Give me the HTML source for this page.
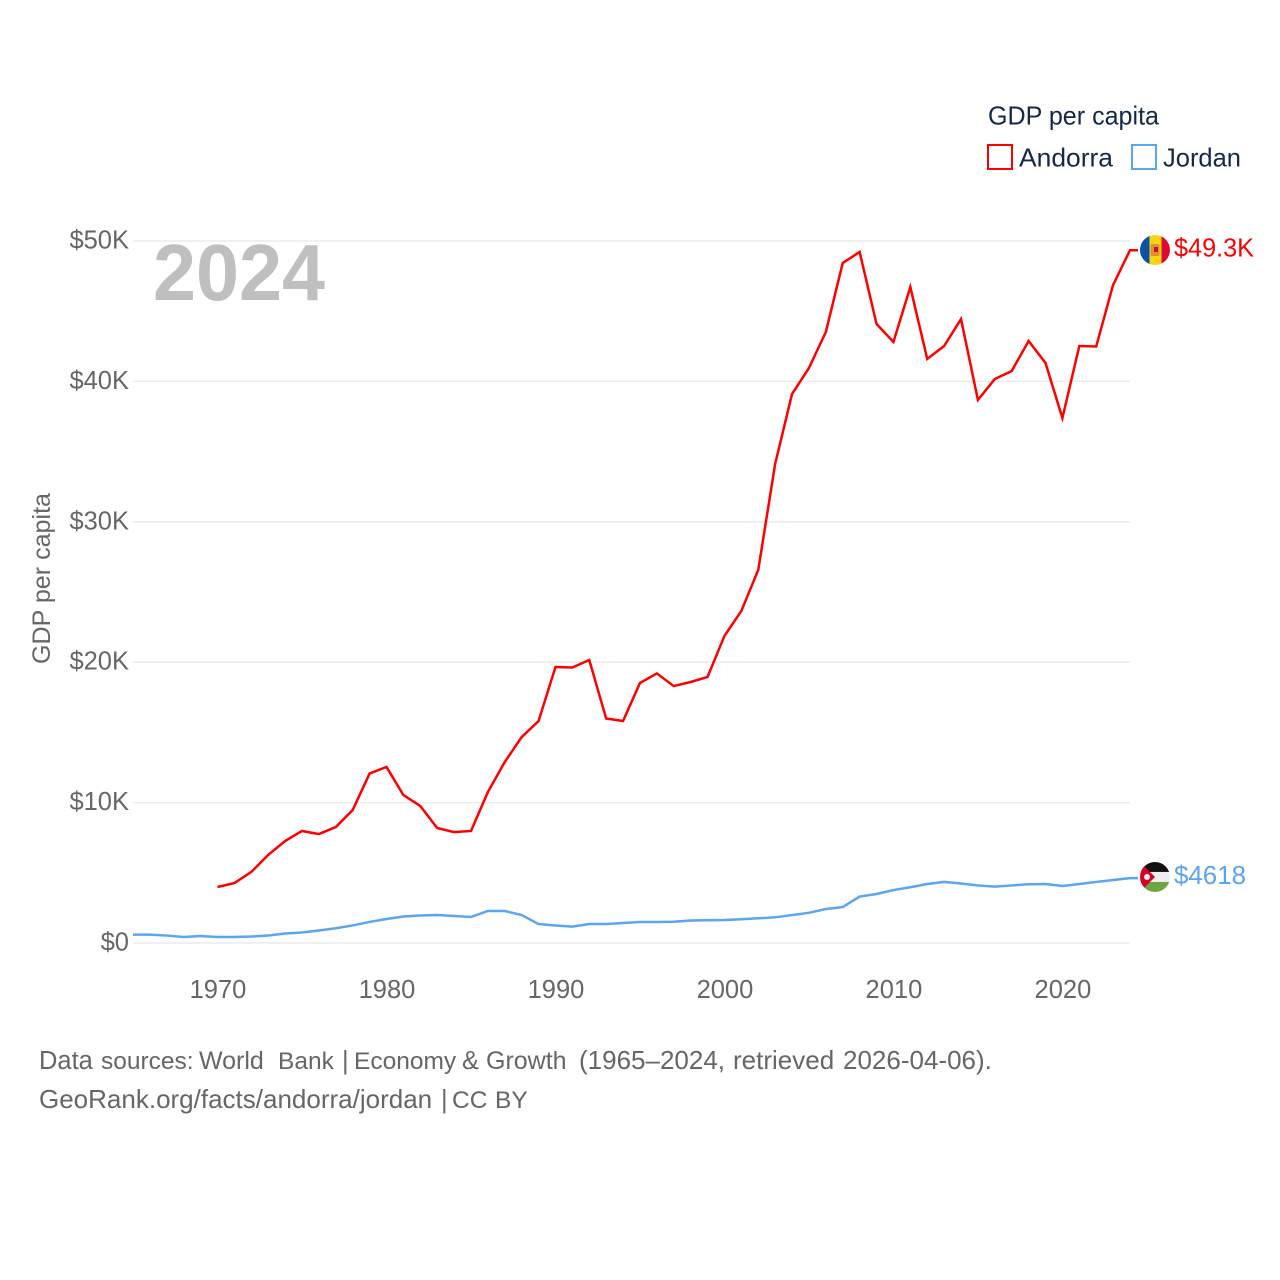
<!DOCTYPE html>
<html lang="en">
<head>
<meta charset="utf-8">
<title>GDP per capita: Andorra and Jordan</title>
<style>
html,body{margin:0;padding:0;background:#fff}
svg{display:block}
text{font-family:"Liberation Sans",sans-serif}
</style>
</head>
<body>
<svg id="chart" width="1280" height="1280" viewBox="0 0 1280 1280" xmlns="http://www.w3.org/2000/svg">
<defs>
<clipPath id="flag-clip-ad"><circle cx="0" cy="0" r="15"/></clipPath>
<clipPath id="flag-clip-jo"><circle cx="0" cy="0" r="15"/></clipPath>
</defs>
<rect width="1280" height="1280" fill="#fff"/>
<g id="grid"></g>
<g id="y-ticks"></g>
<g id="x-ticks"></g>
<text x="153" y="300" font-size="80" font-weight="700" fill="#bfbfbf" textLength="172" lengthAdjust="spacingAndGlyphs">2024</text>
<text transform="translate(50,664) rotate(-90)" font-size="25" fill="#666" textLength="171" lengthAdjust="spacingAndGlyphs">GDP per capita</text>
<path id="line-andorra" fill="none" stroke="#ff0000" stroke-width="2.5" stroke-linejoin="miter"/>
<path id="line-jordan" fill="none" stroke="#5ba4f0" stroke-width="2.5" stroke-linejoin="miter"/>
<g id="flag-andorra">
  <g clip-path="url(#flag-clip-ad)">
    <rect x="-15" y="-15" width="10" height="30" fill="#0a50a5"/>
    <rect x="-5.5" y="-15" width="12.5" height="30" fill="#fbd116"/>
    <rect x="6.5" y="-15" width="8.5" height="30" fill="#dc0a32"/>
    <rect x="-4.5" y="-6" width="9" height="12" rx="2" fill="#e0902f"/>
    <rect x="-1" y="-3" width="4" height="5" fill="#c8102e"/>
  </g>
</g>
<g id="flag-jordan">
  <g clip-path="url(#flag-clip-jo)">
    <rect x="-15" y="-15" width="30" height="10" fill="#111"/>
    <rect x="-15" y="-5" width="30" height="10" fill="#eeeeee"/>
    <rect x="-15" y="5" width="30" height="10" fill="#6da544"/>
    <polygon points="-15,-15 0,0 -15,15" fill="#d80027"/>
    <circle cx="-8" cy="0" r="3" fill="#eeeeee"/>
  </g>
</g>
<text id="label-andorra" x="1174" font-size="26" fill="#ff0000" textLength="80" lengthAdjust="spacingAndGlyphs"></text>
<text id="label-jordan" x="1174" font-size="26" fill="#5ba4f0" textLength="72" lengthAdjust="spacingAndGlyphs"></text>

<g>
  <text x="988" y="124.5" font-size="26" fill="#14284b" textLength="171" lengthAdjust="spacingAndGlyphs">GDP per capita</text>
  <g>
    <rect x="988" y="145" width="24" height="24" fill="#fff" stroke="#ff0000" stroke-width="2"/>
    <text x="1019" y="166.5" font-size="26" fill="#14284b" textLength="94" lengthAdjust="spacingAndGlyphs">Andorra</text>
  </g>
  <g>
    <rect x="1132" y="145" width="24" height="24" fill="#fff" stroke="#5ba4f0" stroke-width="2"/>
    <text x="1163" y="166.5" font-size="26" fill="#14284b" textLength="78" lengthAdjust="spacingAndGlyphs">Jordan</text>
  </g>
</g>
<text y="1069" font-size="25.5" fill="#666"><tspan x="39">Data </tspan><tspan x="101" font-size="24.5">sources: </tspan><tspan x="199" font-size="25">World </tspan><tspan x="278" font-size="24.5">Bank </tspan><tspan x="342">| </tspan><tspan x="354" font-size="24.5">Economy </tspan><tspan x="462">&amp; </tspan><tspan x="486" font-size="25">Growth </tspan><tspan x="579" font-size="26">(1965–2024, </tspan><tspan x="733" font-size="26">retrieved </tspan><tspan x="843" font-size="26">2026-04-06).</tspan></text>
<text y="1108" font-size="25.5" fill="#666"><tspan x="39" font-size="26">GeoRank.org/facts/andorra/jordan </tspan><tspan x="441">| </tspan><tspan x="452" font-size="24.5">CC </tspan><tspan x="495" font-size="24.5">BY</tspan></text>
</svg>
<script>
const NS = 'http://www.w3.org/2000/svg';
const startYear = 1965;
const endYear = 2024;
const xTickYears = [1970, 1980, 1990, 2000, 2010, 2020];
const yTickValues = [0, 10000, 20000, 30000, 40000, 50000];
const yTickLabels = ['$0', '$10K', '$20K', '$30K', '$40K', '$50K'];
const andorraStartYear = 1970;
const andorraValues = [3990,4270,5060,6270,7260,7980,7760,8260,9470,12070,12540,10540,9760,8190,7900,7980,10750,12890,14670,15810,19660,19620,20160,15990,15810,18520,19200,18300,18590,18950,21870,23650,26570,34120,39100,40950,43520,48430,49220,44090,42810,46720,41600,42520,44440,38680,40170,40740,42880,41310,37390,42520,42490,46870,49340];
const jordanStartYear = 1965;
const jordanValues = [600,600,530,430,500,430,430,460,530,680,750,890,1050,1250,1500,1710,1890,1960,1990,1920,1850,2280,2280,1990,1350,1250,1170,1350,1350,1420,1500,1500,1510,1600,1620,1640,1690,1760,1830,1990,2150,2420,2560,3310,3490,3770,3970,4200,4350,4240,4100,4020,4100,4180,4200,4060,4200,4350,4490,4618];

const plotLeft = 133, plotRight = 1130, plotTop = 241, plotBottom = 943, yMax = 50000;
function xScale(year) { return plotLeft + (year - startYear) / (endYear - startYear) * (plotRight - plotLeft); }
function yScale(v) { return plotBottom - v / yMax * (plotBottom - plotTop); }

function makeText(parent, x, y, str, anchor) {
  const t = document.createElementNS(NS, 'text');
  t.setAttribute('x', x);
  t.setAttribute('y', y);
  t.setAttribute('font-size', '25.5');
  t.setAttribute('fill', '#666');
  t.setAttribute('text-anchor', anchor);
  t.textContent = str;
  parent.appendChild(t);
  return t;
}

const grid = document.getElementById('grid');
const yTicks = document.getElementById('y-ticks');
yTickValues.forEach(function (v, i) {
  const line = document.createElementNS(NS, 'line');
  
  
  line.setAttribute('x1', plotLeft);
  line.setAttribute('x2', plotRight);
  line.setAttribute('y1', yScale(v));
  line.setAttribute('y2', yScale(v));
  line.setAttribute('stroke', '#ebebeb');
  line.setAttribute('stroke-width', '1.5');
  grid.appendChild(line);
  const label = makeText(yTicks, 129, yScale(v) + 7.5, yTickLabels[i], 'end');
  
  
});

const xTicks = document.getElementById('x-ticks');
xTickYears.forEach(function (year) {
  const label = makeText(xTicks, xScale(year) + 0.5, 998, String(year), 'middle');
  
  
});

function linePath(firstYear, values) {
  const pts = values.map(function (v, i) { return xScale(firstYear + i).toFixed(2) + ' ' + yScale(v).toFixed(2); });
  const last = values[values.length - 1];
  return 'M' + pts.join(' L') + ' L' + (plotRight + 8) + ' ' + yScale(last).toFixed(2);
}
const andorraLast = andorraValues[andorraValues.length - 1];
const jordanLast = jordanValues[jordanValues.length - 1];
document.getElementById('line-andorra').setAttribute('d', linePath(andorraStartYear, andorraValues));
document.getElementById('line-jordan').setAttribute('d', linePath(jordanStartYear, jordanValues));
document.getElementById('flag-andorra').setAttribute('transform', 'translate(1155,' + (yScale(andorraLast) - 0.3) + ')');
document.getElementById('flag-jordan').setAttribute('transform', 'translate(1155,' + (yScale(jordanLast) - 1.2) + ')');
const labelA = document.getElementById('label-andorra');
labelA.setAttribute('y', yScale(andorraLast) + 6);
labelA.textContent = '$' + (andorraLast / 1000).toFixed(1) + 'K';
const labelJ = document.getElementById('label-jordan');
labelJ.setAttribute('y', yScale(jordanLast) + 6);
labelJ.textContent = '$' + jordanLast;
</script>
</body>
</html>
